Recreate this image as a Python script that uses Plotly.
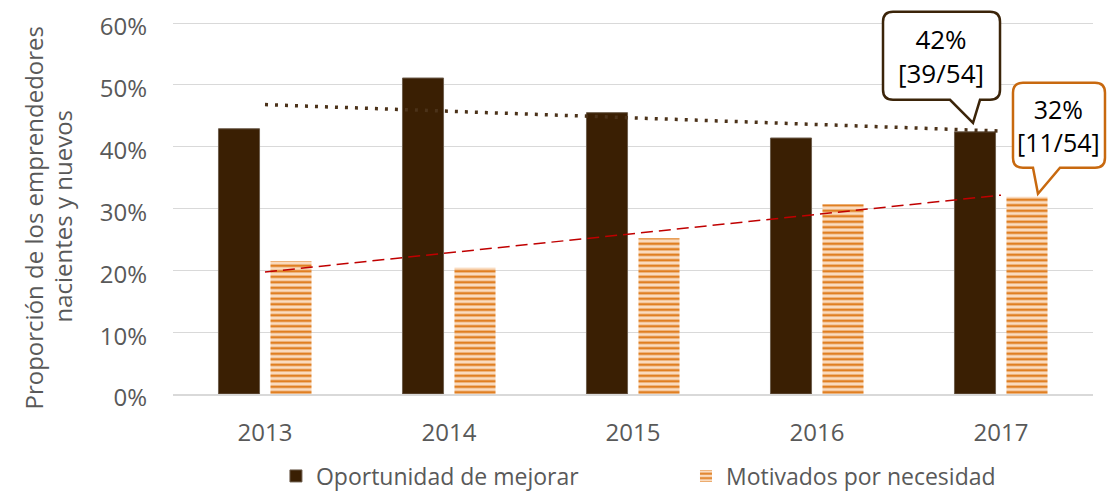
import numpy as np
import plotly.graph_objects as go

# ---- data ----
years = ["2013", "2014", "2015", "2016", "2017"]
oportunidad = [0.429, 0.511, 0.455, 0.414, 0.424]
necesidad = [0.215, 0.204, 0.252, 0.307, 0.319]
series_names = ["Oportunidad de mejorar", "Motivados por necesidad"]
callout_texts = ["42%<br>[39/54]", "32%<br>[11/54]"]
y_title_lines = ["Proporción de los emprendedores", "nacientes y nuevos"]
y_ticks = [0, 0.1, 0.2, 0.3, 0.4, 0.5, 0.6]

# ---- style ----
DARK = "#3A1F03"
DOTS = "#4B3219"
ORANGE = "#E07F22"
PEACH = "#FADCC0"
RED = "#C00000"
GRAY = "#595959"
GRID = "#D9D9D9"
FONT = "Open Sans"
BARGAP = 0.435
GROUPGAP = 0.21
PLOT_H = 373                      # plot area height in px
Y_TOP = 0.6 * PLOT_H / (PLOT_H - 2)  # leave 2px above the 60% gridline so it is drawn

fig = go.Figure()
fig.add_bar(x=years, y=oportunidad, name=series_names[0], legend="legend",
            marker=dict(color=DARK, line=dict(color="#6E5E4E", width=1)),
            hoverinfo="skip")
fig.add_bar(x=years, y=necesidad, name=series_names[1], legend="legend2",
            marker=dict(color=PEACH, line=dict(width=0),
                        pattern=dict(shape="-", fgcolor=ORANGE, bgcolor=PEACH,
                                     fillmode="replace", size=5.5, solidity=0.45)),
            hoverinfo="skip")

# linear trend lines (least squares, as in the spreadsheet)
idx = np.arange(len(years))
for vals, color, dash, width in [(oportunidad, DOTS, "3px,7px", 3.5),
                                 (necesidad, RED, "12px,6px", 1.5)]:
    k, b = np.polyfit(idx, vals, 1)
    fig.add_scatter(x=[years[0], years[-1]], y=[b, k * idx[-1] + b], mode="lines",
                    line=dict(color=color, dash=dash, width=width),
                    showlegend=False, hoverinfo="skip")


def bar_anchor(i, s):
    slot = (1 - BARGAP) / 2
    return (i + 0.5 + (s - 0.5) * slot) / len(years)


def bubble_path(bx0, bx1, by0, by1, tail, r=10):
    (lx, ly), (tx, ty), (rx, ry) = tail
    return (f"M {bx0 + r},{by1} L {bx1 - r},{by1} Q {bx1},{by1} {bx1},{by1 - r} "
            f"L {bx1},{by0 + r} Q {bx1},{by0} {bx1 - r},{by0} L {rx},{ry} L {tx},{ty} "
            f"L {lx},{ly} L {bx0 + r},{by0} Q {bx0},{by0} {bx0},{by0 + r} "
            f"L {bx0},{by1 - r} Q {bx0},{by1} {bx0 + r},{by1} Z")


callouts = [
    dict(s=0, vals=oportunidad, color="#3B2409", size=26,
         box=(-92, 25, 32, 120), tail=((-25, 32), (-2, 9), (5, 32)), text=(-34, 76)),
    dict(s=1, vals=necesidad, color="#C8690F", size=25,
         box=(-14, 78, 29, 114), tail=((6, 29), (11, 3), (33, 29)), text=(32, 71)),
]
last = len(years) - 1
for c, txt in zip(callouts, callout_texts):
    ax = bar_anchor(last, c["s"])
    ay = c["vals"][last] / Y_TOP
    bx0, bx1, by0, by1 = c["box"]
    fig.add_shape(type="path", xref="paper", yref="paper",
                  xsizemode="pixel", ysizemode="pixel", xanchor=ax, yanchor=ay,
                  path=bubble_path(bx0, bx1, by0, by1, c["tail"]),
                  line=dict(color=c["color"], width=2.5), fillcolor="white", layer="above")
    fig.add_annotation(xref="paper", yref="paper", x=ax, y=ay,
                       xshift=c["text"][0], yshift=c["text"][1],
                       text=txt, showarrow=False, xanchor="center", yanchor="middle",
                       font=dict(family=FONT, size=c["size"], color="#000000"))

for line, (xs, ys) in zip(y_title_lines, [(-140, -10), (-111, -9)]):
    fig.add_annotation(xref="paper", yref="paper", x=0, y=0.5, xshift=xs, yshift=ys,
                       text=line, textangle=-90, showarrow=False,
                       xanchor="center", yanchor="middle",
                       font=dict(family=FONT, size=24, color=GRAY))

legend_style = dict(orientation="h", y=-0.2198, xanchor="left", yanchor="middle",
                    font=dict(family=FONT, size=23, color=GRAY), bgcolor="rgba(0,0,0,0)")

# figure sized so that it plus the page's default 8px body margin fills the window
fig.update_layout(
    width=1101, height=483,
    margin=dict(l=165, r=16, t=13, b=97, autoexpand=False),
    paper_bgcolor="white", plot_bgcolor="white",
    barmode="group", bargap=BARGAP, bargroupgap=GROUPGAP,
    font=dict(family=FONT, size=24, color=GRAY),
    showlegend=True,
    legend=dict(x=0.1119, **legend_style),
    legend2=dict(x=0.5576, **legend_style),
)
fig.update_yaxes(range=[0, Y_TOP], tickmode="array", tickvals=y_ticks, tickformat=".0%",
                 showgrid=True, gridcolor=GRID, gridwidth=1, zeroline=False,
                 showline=False, ticks="", ticklabeloverflow="allow", ticklabelshift=4,
                 ticklabelstandoff=25, tickfont=dict(family=FONT, size=24, color=GRAY))
fig.update_xaxes(type="category", showline=True, linecolor=GRID, linewidth=1.5, ticks="",
                 ticklabelstandoff=16, tickfont=dict(family=FONT, size=24, color=GRAY))

fig.write_html("out.html", config={"displayModeBar": False})
